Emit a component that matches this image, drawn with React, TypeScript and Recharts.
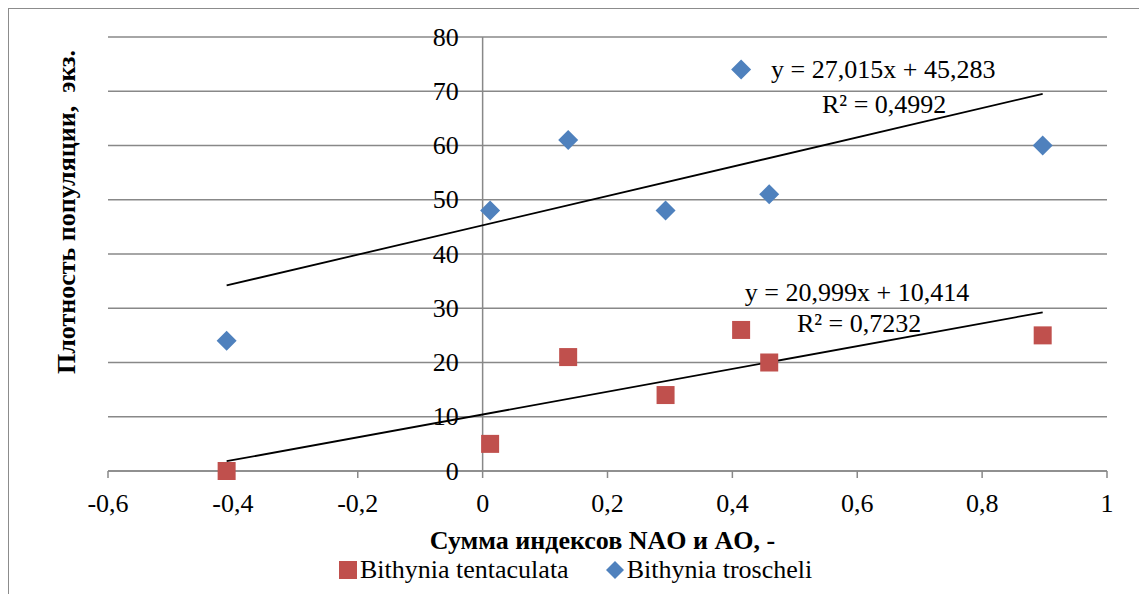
import React from 'react';
import {
  ScatterChart,
  Scatter,
  XAxis,
  YAxis,
  CartesianGrid,
  ReferenceLine,
  ReferenceDot,
  Label,
} from 'recharts';

// ---- data ----
const xValues = [-0.41, 0.012, 0.137, 0.293, 0.414, 0.459, 0.897];
const tentaculataValues = [0, 5, 21, 14, 26, 20, 25];
const troscheliValues = [24, 48, 61, 48, 74, 51, 60];
const seriesNames = ['Bithynia tentaculata', 'Bithynia troscheli'];
const xTicks = [-0.6, -0.4, -0.2, 0, 0.2, 0.4, 0.6, 0.8, 1];
const xTickLabels = ['-0,6', '-0,4', '-0,2', '0', '0,2', '0,4', '0,6', '0,8', '1'];
const yTicks = [0, 10, 20, 30, 40, 50, 60, 70, 80];
const yTickLabels = ['0', '10', '20', '30', '40', '50', '60', '70', '80'];
const troscheliTrend = { slope: 27.015, intercept: 45.283 };
const tentaculataTrend = { slope: 20.999, intercept: 10.414 };
const troscheliEqText = ['y = 27,015x + 45,283', 'R² = 0,4992'];
const tentaculataEqText = ['y = 20,999x + 10,414', 'R² = 0,7232'];
const xAxisTitle = 'Сумма индексов NAO и AO, -';
const yAxisTitle = 'Плотность популяции,  экз.';

// ---- layout ----
const W = 1134;
const H = 585;
const X_MIN = -0.6;
const X_MAX = 1;
const MARGIN = { top: 28, right: 36, bottom: 93, left: 99 };
const FONT = "'Liberation Serif', 'Times New Roman', 'DejaVu Serif', serif";
const GRID = '#888888';
const RED = '#C0504D';
const BLUE = '#4F81BD';

const tentaculata = xValues.map((x, i) => ({ x, y: tentaculataValues[i] }));
const troscheli = xValues.map((x, i) => ({ x, y: troscheliValues[i] }));
const xLo = Math.min(...xValues);
const xHi = Math.max(...xValues);
const trendLine = (t: { slope: number; intercept: number }) => [
  { x: xLo, y: t.slope * xLo + t.intercept },
  { x: xHi, y: t.slope * xHi + t.intercept },
];

// annotation anchors (data coords)
const annotations = [
  { x: 0.462, y: 72.4, text: troscheliEqText[0] },
  { x: 0.5436, y: 66.0, text: troscheliEqText[1] },
  { x: 0.42, y: 31.4, text: tentaculataEqText[0] },
  { x: 0.5035, y: 25.7, text: tentaculataEqText[1] },
];

const Square = (props: any) => {
  const { cx, cy } = props;
  if (cx == null || cy == null) return <g />;
  return <rect x={cx - 9} y={cy - 9} width={18} height={18} fill={RED} />;
};

const Diamond = (props: any) => {
  const { cx, cy } = props;
  if (cx == null || cy == null) return <g />;
  const r = 10;
  return (
    <polygon
      points={`${cx},${cy - r} ${cx + r},${cy} ${cx},${cy + r} ${cx - r},${cy}`}
      fill={BLUE}
    />
  );
};

const NoShape = () => <g />;

const XTick = (props: any) => {
  const { x, y, payload } = props;
  const idx = xTicks.findIndex((t) => Math.abs(t - payload.value) < 1e-9);
  return (
    <text
      x={x}
      y={y + 23.5}
      textAnchor="middle"
      dominantBaseline="central"
      style={{ fontFamily: FONT, fontSize: 26 }}
      fill="#000"
    >
      {idx >= 0 ? xTickLabels[idx] : payload.value}
    </text>
  );
};

const centerOf = (props: any) => {
  const vb = props.viewBox || {};
  return {
    cx: (vb.x ?? 0) + (vb.width ?? 0) / 2,
    cy: (vb.y ?? 0) + (vb.height ?? 0) / 2,
  };
};

const annotationLabel = (text: string) => (props: any) => {
  const { cx, cy } = centerOf(props);
  return (
    <text x={cx} y={cy} textAnchor="start" style={{ fontFamily: FONT, fontSize: 26 }} fill="#000">
      {text}
    </text>
  );
};

const yTickLabel = (text: string) => (props: any) => {
  const { cx, cy } = centerOf(props);
  return (
    <text
      x={cx - 24}
      y={cy}
      textAnchor="end"
      dominantBaseline="central"
      style={{ fontFamily: FONT, fontSize: 26 }}
      fill="#000"
    >
      {text}
    </text>
  );
};

export default function App() {
  return (
    <div
      style={{
        position: 'relative',
        width: W,
        height: H,
        borderTop: '1px solid #8c8c8c',
        borderLeft: '1px solid #8c8c8c',
        borderRight: '1px solid #8c8c8c',
        background: '#fff',
        fontFamily: FONT,
      }}
    >
      <ScatterChart width={W} height={H} margin={MARGIN}>
        <CartesianGrid horizontal vertical={false} stroke={GRID} strokeWidth={1.5} />
        <XAxis
          type="number"
          dataKey="x"
          domain={[X_MIN, X_MAX]}
          ticks={xTicks}
          interval={0}
          allowDataOverflow
          stroke={GRID}
          strokeWidth={1.5}
          tickSize={7}
          tickMargin={2}
          tick={<XTick />}
          height={30}
        >
          <Label
            content={(p: any) => {
              const vb = p.viewBox || {};
              return (
                <text
                  x={vb.x + vb.width / 2 - 5}
                  y={vb.y + 78}
                  textAnchor="middle"
                  style={{ fontFamily: FONT, fontSize: 26, fontWeight: 'bold' }}
                  fill="#000"
                >
                  {xAxisTitle}
                </text>
              );
            }}
          />
        </XAxis>
        <YAxis
          type="number"
          dataKey="y"
          domain={[0, 80]}
          ticks={yTicks}
          hide
        />
        <ReferenceLine x={0} stroke={GRID} strokeWidth={1.5} />
        <Scatter
          name="trend-troscheli"
          data={trendLine(troscheliTrend)}
          line={{ stroke: '#000', strokeWidth: 1.8 }}
          shape={<NoShape />}
          legendType="none"
          isAnimationActive={false}
        />
        <Scatter
          name="trend-tentaculata"
          data={trendLine(tentaculataTrend)}
          line={{ stroke: '#000', strokeWidth: 1.8 }}
          shape={<NoShape />}
          legendType="none"
          isAnimationActive={false}
        />
        <Scatter
          name={seriesNames[0]}
          data={tentaculata}
          shape={<Square />}
          isAnimationActive={false}
        />
        <Scatter
          name={seriesNames[1]}
          data={troscheli}
          shape={<Diamond />}
          isAnimationActive={false}
        />
        {yTicks.map((v, i) => (
          <ReferenceDot
            key={'yt' + i}
            x={0}
            y={v}
            r={1}
            fill="none"
            stroke="none"
            label={yTickLabel(yTickLabels[i])}
          />
        ))}
        {annotations.map((a, i) => (
          <ReferenceDot
            key={'an' + i}
            x={a.x}
            y={a.y}
            r={1}
            fill="none"
            stroke="none"
            label={annotationLabel(a.text)}
          />
        ))}
      </ScatterChart>
      <svg
        width={100}
        height={420}
        style={{ position: 'absolute', left: 0, top: 0, pointerEvents: 'none' }}
      >
        <text
          x={57}
          y={203}
          transform="rotate(-90 57 203)"
          textAnchor="middle"
          dominantBaseline="central"
          style={{ fontFamily: FONT, fontSize: 26, fontWeight: 'bold', whiteSpace: 'pre' }}
          fill="#000"
        >
          {yAxisTitle}
        </text>
      </svg>
      <div
        style={{
          position: 'absolute',
          left: 330,
          top: 546,
          height: 30,
          display: 'flex',
          alignItems: 'center',
          fontFamily: FONT,
          fontSize: 26,
          lineHeight: '30px',
          color: '#000',
          whiteSpace: 'nowrap',
        }}
      >
        <span style={{ display: 'inline-block', width: 18, height: 18, background: RED, marginRight: 3 }} />
        <span>{seriesNames[0]}</span>
        <svg width={20} height={20} style={{ marginLeft: 36, marginRight: 2 }}>
          <polygon points="10,1 19,10 10,19 1,10" fill={BLUE} />
        </svg>
        <span>{seriesNames[1]}</span>
      </div>
    </div>
  );
}
